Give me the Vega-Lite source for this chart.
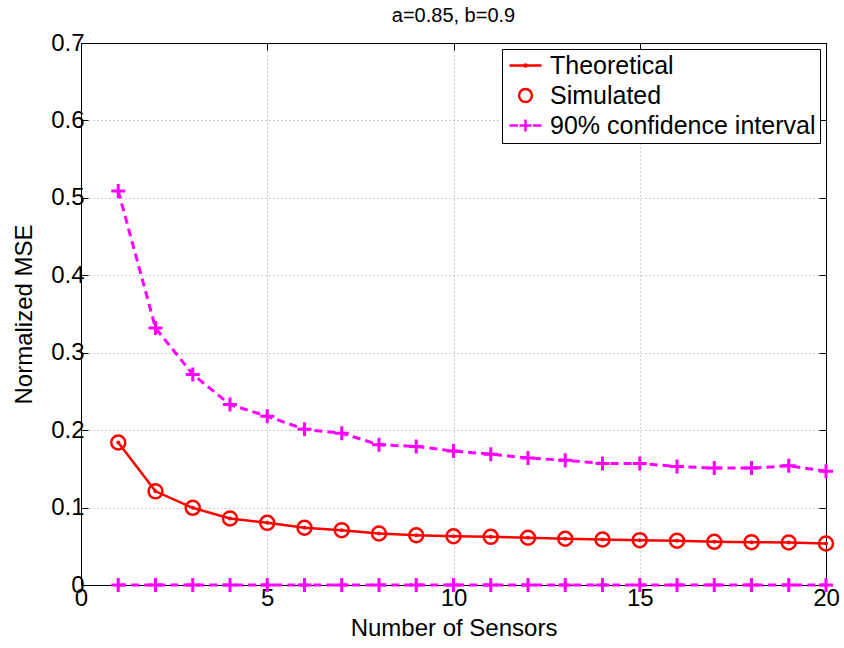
{
  "$schema": "https://vega.github.io/schema/vega-lite/v6.json",
  "autosize": {"type": "none"},
  "width": 745,
  "height": 542,
  "padding": {"left": 81, "top": 43, "right": 18, "bottom": 63},
  "background": "white",
  "title": {"text": "a=0.85, b=0.9", "fontSize": 20, "font": "Liberation Sans", "fontWeight": "normal", "offset": 5, "anchor": "middle", "color": "black"},
  "config": {
    "view": {"stroke": "black", "strokeWidth": 1},
    "font": "Liberation Sans",
    "axis": {
      "labelFont": "Liberation Sans", "labelFontSize": 24, "labelColor": "black",
      "titleFont": "Liberation Sans", "titleFontSize": 24, "titleColor": "black", "titleFontWeight": "normal",
      "domainColor": "black", "tickColor": "black", "tickSize": -7, "tickWidth": 1,
      "gridColor": "#999999", "gridDash": [1, 3], "gridWidth": 1
    },
    "legend": {
      "orient": "top-right", "offset": 6, "strokeColor": "black", "fillColor": "white",
      "padding": 4, "labelFont": "Liberation Sans", "labelFontSize": 25, "labelColor": "black", "labelLimit": 500,
      "symbolSize": 462, "symbolStrokeWidth": 2.5, "rowPadding": 4, "labelOffset": 12, "symbolOffset": 7
    }
  },
  "data": {"values": [
    {"n": 1, "series": "Theoretical", "bound": "m", "v": 0.184},
    {"n": 2, "series": "Theoretical", "bound": "m", "v": 0.121},
    {"n": 3, "series": "Theoretical", "bound": "m", "v": 0.0997},
    {"n": 4, "series": "Theoretical", "bound": "m", "v": 0.0859},
    {"n": 5, "series": "Theoretical", "bound": "m", "v": 0.0803},
    {"n": 6, "series": "Theoretical", "bound": "m", "v": 0.0739},
    {"n": 7, "series": "Theoretical", "bound": "m", "v": 0.0708},
    {"n": 8, "series": "Theoretical", "bound": "m", "v": 0.0665},
    {"n": 9, "series": "Theoretical", "bound": "m", "v": 0.0643},
    {"n": 10, "series": "Theoretical", "bound": "m", "v": 0.063},
    {"n": 11, "series": "Theoretical", "bound": "m", "v": 0.0622},
    {"n": 12, "series": "Theoretical", "bound": "m", "v": 0.061},
    {"n": 13, "series": "Theoretical", "bound": "m", "v": 0.0597},
    {"n": 14, "series": "Theoretical", "bound": "m", "v": 0.0588},
    {"n": 15, "series": "Theoretical", "bound": "m", "v": 0.0579},
    {"n": 16, "series": "Theoretical", "bound": "m", "v": 0.0571},
    {"n": 17, "series": "Theoretical", "bound": "m", "v": 0.0558},
    {"n": 18, "series": "Theoretical", "bound": "m", "v": 0.0553},
    {"n": 19, "series": "Theoretical", "bound": "m", "v": 0.0549},
    {"n": 20, "series": "Theoretical", "bound": "m", "v": 0.0536},
    {"n": 1, "series": "Simulated", "bound": "m", "v": 0.184},
    {"n": 2, "series": "Simulated", "bound": "m", "v": 0.121},
    {"n": 3, "series": "Simulated", "bound": "m", "v": 0.0997},
    {"n": 4, "series": "Simulated", "bound": "m", "v": 0.0859},
    {"n": 5, "series": "Simulated", "bound": "m", "v": 0.0803},
    {"n": 6, "series": "Simulated", "bound": "m", "v": 0.0739},
    {"n": 7, "series": "Simulated", "bound": "m", "v": 0.0708},
    {"n": 8, "series": "Simulated", "bound": "m", "v": 0.0665},
    {"n": 9, "series": "Simulated", "bound": "m", "v": 0.0643},
    {"n": 10, "series": "Simulated", "bound": "m", "v": 0.063},
    {"n": 11, "series": "Simulated", "bound": "m", "v": 0.0622},
    {"n": 12, "series": "Simulated", "bound": "m", "v": 0.061},
    {"n": 13, "series": "Simulated", "bound": "m", "v": 0.0597},
    {"n": 14, "series": "Simulated", "bound": "m", "v": 0.0588},
    {"n": 15, "series": "Simulated", "bound": "m", "v": 0.0579},
    {"n": 16, "series": "Simulated", "bound": "m", "v": 0.0571},
    {"n": 17, "series": "Simulated", "bound": "m", "v": 0.0558},
    {"n": 18, "series": "Simulated", "bound": "m", "v": 0.0553},
    {"n": 19, "series": "Simulated", "bound": "m", "v": 0.0549},
    {"n": 20, "series": "Simulated", "bound": "m", "v": 0.0536},
    {"n": 1, "series": "90% confidence interval", "bound": "upper", "v": 0.509},
    {"n": 2, "series": "90% confidence interval", "bound": "upper", "v": 0.332},
    {"n": 3, "series": "90% confidence interval", "bound": "upper", "v": 0.272},
    {"n": 4, "series": "90% confidence interval", "bound": "upper", "v": 0.233},
    {"n": 5, "series": "90% confidence interval", "bound": "upper", "v": 0.218},
    {"n": 6, "series": "90% confidence interval", "bound": "upper", "v": 0.201},
    {"n": 7, "series": "90% confidence interval", "bound": "upper", "v": 0.196},
    {"n": 8, "series": "90% confidence interval", "bound": "upper", "v": 0.181},
    {"n": 9, "series": "90% confidence interval", "bound": "upper", "v": 0.179},
    {"n": 10, "series": "90% confidence interval", "bound": "upper", "v": 0.173},
    {"n": 11, "series": "90% confidence interval", "bound": "upper", "v": 0.169},
    {"n": 12, "series": "90% confidence interval", "bound": "upper", "v": 0.164},
    {"n": 13, "series": "90% confidence interval", "bound": "upper", "v": 0.161},
    {"n": 14, "series": "90% confidence interval", "bound": "upper", "v": 0.157},
    {"n": 15, "series": "90% confidence interval", "bound": "upper", "v": 0.157},
    {"n": 16, "series": "90% confidence interval", "bound": "upper", "v": 0.153},
    {"n": 17, "series": "90% confidence interval", "bound": "upper", "v": 0.151},
    {"n": 18, "series": "90% confidence interval", "bound": "upper", "v": 0.151},
    {"n": 19, "series": "90% confidence interval", "bound": "upper", "v": 0.154},
    {"n": 20, "series": "90% confidence interval", "bound": "upper", "v": 0.147},
    {"n": 1, "series": "90% confidence interval", "bound": "lower", "v": 0},
    {"n": 2, "series": "90% confidence interval", "bound": "lower", "v": 0},
    {"n": 3, "series": "90% confidence interval", "bound": "lower", "v": 0},
    {"n": 4, "series": "90% confidence interval", "bound": "lower", "v": 0},
    {"n": 5, "series": "90% confidence interval", "bound": "lower", "v": 0},
    {"n": 6, "series": "90% confidence interval", "bound": "lower", "v": 0},
    {"n": 7, "series": "90% confidence interval", "bound": "lower", "v": 0},
    {"n": 8, "series": "90% confidence interval", "bound": "lower", "v": 0},
    {"n": 9, "series": "90% confidence interval", "bound": "lower", "v": 0},
    {"n": 10, "series": "90% confidence interval", "bound": "lower", "v": 0},
    {"n": 11, "series": "90% confidence interval", "bound": "lower", "v": 0},
    {"n": 12, "series": "90% confidence interval", "bound": "lower", "v": 0},
    {"n": 13, "series": "90% confidence interval", "bound": "lower", "v": 0},
    {"n": 14, "series": "90% confidence interval", "bound": "lower", "v": 0},
    {"n": 15, "series": "90% confidence interval", "bound": "lower", "v": 0},
    {"n": 16, "series": "90% confidence interval", "bound": "lower", "v": 0},
    {"n": 17, "series": "90% confidence interval", "bound": "lower", "v": 0},
    {"n": 18, "series": "90% confidence interval", "bound": "lower", "v": 0},
    {"n": 19, "series": "90% confidence interval", "bound": "lower", "v": 0},
    {"n": 20, "series": "90% confidence interval", "bound": "lower", "v": 0}
  ]},
  "layer": [
    {
      "encoding": {
        "x": {"field": "n", "type": "quantitative", "scale": {"domain": [0, 20], "nice": false, "zero": false},
              "axis": {"orient": "bottom", "values": [0, 5, 10, 15, 20], "format": "d", "title": "Number of Sensors", "grid": true, "labelPadding": 8, "titlePadding": 6, "labelFlush": false}},
        "y": {"field": "v", "type": "quantitative", "scale": {"domain": [0, 0.7], "nice": false},
              "axis": {"orient": "left", "values": [0, 0.1, 0.2, 0.3, 0.4, 0.5, 0.6, 0.7], "format": ".1~f", "title": "Normalized MSE", "grid": true, "labelPadding": 4, "titlePadding": 14, "labelFlush": false}}
      },
      "layer": [
        {
          "transform": [{"filter": "datum.series == 'Theoretical'"}],
          "mark": {"type": "line", "color": "#ff0000", "strokeWidth": 2.5}
        },
        {
          "transform": [{"filter": "datum.series == 'Theoretical'"}],
          "mark": {"type": "point", "shape": "circle", "filled": true, "color": "#ff0000", "size": 16, "opacity": 1}
        },
        {
          "transform": [{"filter": "datum.series == '90% confidence interval'"}],
          "mark": {"type": "line", "color": "#ff00ff", "strokeWidth": 3, "strokeDash": [8, 5]},
          "encoding": {"detail": {"field": "bound"}}
        },
        {
          "transform": [{"filter": "datum.series == '90% confidence interval'"}],
          "mark": {"type": "point", "shape": "M-1,0H1M0,-1V1", "filled": false, "color": "#ff00ff", "strokeWidth": 3, "size": 196, "opacity": 1}
        },
        {
          "transform": [{"filter": "datum.series == 'Simulated'"}],
          "mark": {"type": "point", "filled": false, "strokeWidth": 2.5, "size": 544, "opacity": 1},
          "encoding": {
            "color": {"field": "series", "type": "nominal",
                      "scale": {"domain": ["Theoretical", "Simulated", "90% confidence interval"], "range": ["#ff0000", "#ff0000", "#ff00ff"]},
                      "legend": {"title": null}},
            "shape": {"field": "series", "type": "nominal",
                      "scale": {"domain": ["Theoretical", "Simulated", "90% confidence interval"],
                                "range": ["M-1.49,0H1.49M0.09,0A0.09,0.09 0 1 1 -0.09,0A0.09,0.09 0 1 1 0.09,0", "M0.6,0A0.6,0.6 0 1 1 -0.6,0A0.6,0.6 0 1 1 0.6,0", "M-1.49,0H-0.7M-0.56,0H0.56M0,-0.56V0.56M0.7,0H1.49"]},
                      "legend": {"title": null}}
          }
        }
      ]
    },
    {
      "mark": {"type": "point", "opacity": 0},
      "encoding": {
        "x": {"field": "n", "type": "quantitative", "axis": {"orient": "top", "values": [0, 5, 10, 15, 20], "labels": false, "title": null, "grid": false}},
        "y": {"field": "v", "type": "quantitative", "axis": {"orient": "right", "values": [0, 0.1, 0.2, 0.3, 0.4, 0.5, 0.6, 0.7], "labels": false, "title": null, "grid": false}}
      }
    }
  ],
  "resolve": {"axis": {"x": "independent", "y": "independent"}}
}
